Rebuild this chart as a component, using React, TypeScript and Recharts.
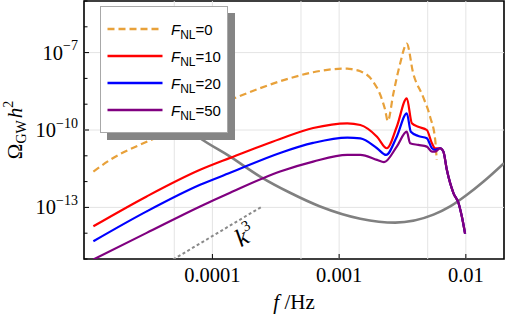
import React from "react";
import {
  LineChart,
  Line,
  XAxis,
  YAxis,
  ReferenceLine,
  ReferenceArea,
  ReferenceDot,
  Legend,
} from "recharts";

type Pt = [number, number];

// f [Hz], Omega_GW h^2
const fnl0: Pt[] = [
  [1.15e-5, 2.45e-12], [1.56e-5, 6.95e-12], [3.66e-5, 5.37e-11], [1.38e-4, 1.44e-9],
  [2.38e-4, 4.19e-9], [4.1e-4, 1.02e-8], [6.24e-4, 1.73e-8], [8.97e-4, 2.27e-8],
  [1.16e-3, 2.41e-8], [1.29e-3, 2.21e-8], [1.47e-3, 1.9e-8], [1.82e-3, 8.53e-9],
  [2.16e-3, 1.72e-9], [2.31e-3, 5.92e-10], [2.42e-3, 2.22e-10], [2.68e-3, 2.61e-9],
  [3.03e-3, 3.76e-8], [3.42e-3, 2.22e-7], [3.84e-3, 1.59e-8], [4.6e-3, 1.93e-9],
  [5.22e-3, 3.26e-10], [5.73e-3, 4.11e-11], [5.89e-3, 6.95e-12],
];

const fnl10: Pt[] = [
  [1.15e-5, 1.85e-14], [3.03e-5, 2.66e-13], [8.0e-5, 2.86e-12], [1.38e-4, 8.3e-12],
  [3.42e-4, 4.5e-11], [6.24e-4, 1.19e-10], [1.16e-3, 1.82e-10], [1.47e-3, 1.56e-10],
  [1.99e-3, 5.51e-11], [2.38e-3, 1.96e-11], [2.85e-3, 1.34e-10], [3.42e-3, 1.67e-9],
  [3.75e-3, 1.82e-10], [4.21e-3, 1.34e-10], [4.92e-3, 1.0e-10], [5.4e-3, 3.06e-11],
  [5.73e-3, 1.96e-11],
];

const fnl20: Pt[] = [
  [1.15e-5, 4.87e-15], [3.03e-5, 7.0e-14], [8.0e-5, 7.52e-13], [1.38e-4, 2.19e-12],
  [3.42e-4, 1.29e-11], [6.24e-4, 3.15e-11], [1.16e-3, 5.05e-11], [1.47e-3, 4.7e-11],
  [1.99e-3, 1.96e-11], [2.35e-3, 1.08e-11], [2.85e-3, 5.51e-11], [3.42e-3, 4.42e-10],
  [3.68e-3, 8.6e-11], [4.21e-3, 5.86e-11], [4.92e-3, 4.79e-11], [5.4e-3, 1.96e-11],
  [5.73e-3, 1.69e-11],
];

const fnl50: Pt[] = [
  [1.15e-5, 9.6e-16], [3.03e-5, 1.03e-14], [8.0e-5, 1.09e-13], [1.38e-4, 3.7e-13],
  [3.42e-4, 2.45e-12], [6.24e-4, 5.97e-12], [1.16e-3, 1.08e-11], [1.47e-3, 1.08e-11],
  [1.99e-3, 6.95e-12], [2.26e-3, 5.66e-12], [2.85e-3, 2.27e-11], [3.42e-3, 8.6e-11],
  [3.63e-3, 3.06e-11], [4.21e-3, 2.64e-11], [4.92e-3, 2.27e-11], [5.4e-3, 1.45e-11],
  [5.73e-3, 1.45e-11],
];

// common high-frequency cutoff of the three non-gaussian curves
const tail: Pt[] = [
  [6.27e-3, 1.96e-11], [6.65e-3, 1.45e-11], [7.08e-3, 2.86e-12], [7.98e-3, 3.6e-13],
  [8.75e-3, 1.48e-13], [9.29e-3, 4.5e-14], [9.86e-3, 9.66e-15],
];

// detector sensitivity
const sensitivity: Pt[] = [
  [3.22e-5, 8.53e-9], [4.64e-5, 4.95e-10], [6.67e-5, 9.15e-11], [8.0e-5, 4.79e-11],
  [1.38e-4, 9.3e-12], [2.38e-4, 1.57e-12], [4.1e-4, 3.7e-13], [7.08e-4, 1.09e-13],
  [1.47e-3, 3.66e-14], [2.77e-3, 2.57e-14], [5.55e-3, 5.23e-14], [7.52e-3, 1.09e-13],
  [1.02e-2, 3.09e-13], [1.38e-2, 1.01e-12], [2.0e-2, 5.18e-12],
];

const k3Slope: Pt[] = [[4.9e-5, 9.57e-16], [2.47e-4, 1.09e-13]];
const k3LabelAt: Pt = [1.81e-4, 8.07e-15];

const fDomain = [9.7e-6, 0.02];
const omegaDomain = [1e-15, 1e-5];
const fTicks = [1e-4, 1e-3, 1e-2];
const omegaTicks = [1e-15, 1e-14, 1e-13, 1e-12, 1e-11, 1e-10, 1e-9, 1e-8, 1e-7, 1e-6, 1e-5];
const omegaLabelled = [-7, -10, -13];
const gridF = [5e-5, 1e-4, 5e-4, 1e-3, 5e-3, 1e-2];
const gridOmega = [1e-7, 1e-10, 1e-13];

const series = [
  { name: "0", pts: fnl0, color: "#E8A13A", dash: "7 4" },
  { name: "10", pts: [...fnl10, ...tail], color: "#FF0000", dash: undefined },
  { name: "20", pts: [...fnl20, ...tail], color: "#0000FF", dash: undefined },
  { name: "50", pts: [...fnl50, ...tail], color: "#800080", dash: undefined },
];

const rows = (pts: Pt[]) => pts.map(([f, v]) => ({ f, v }));

const serif = "'Liberation Serif', 'Times New Roman', serif";
const sans = "'Liberation Sans', Arial, sans-serif";

function FTick({ x, y, payload }: any) {
  return (
    <g>
      <line x1={x} x2={x} y1={y} y2={y - 5} stroke="#000" strokeWidth={1} />
      <text x={x} y={y + 23} textAnchor="middle" fontFamily={serif} fontSize={20.5} fill="#000">
        {String(payload.value)}
      </text>
    </g>
  );
}

function OmegaTick({ x, y, payload }: any) {
  const e = Math.round(Math.log10(payload.value));
  const major = omegaLabelled.includes(e);
  return (
    <g>
      <line x1={x} x2={x + (major ? 5 : 3.5)} y1={y} y2={y} stroke="#000" strokeWidth={1} />
      {major && (
        <text x={x - 6} y={y + 7} textAnchor="end" fontFamily={serif} fontSize={20.5} fill="#000">
          10
          <tspan fontSize={14} dy={-9.5}>
            {"\u2212" + String(-e)}
          </tspan>
        </text>
      )}
    </g>
  );
}

function FLabel({ viewBox }: any) {
  const cx = viewBox.x + viewBox.width / 2;
  return (
    <text x={cx} y={viewBox.y + 50} textAnchor="middle" fontFamily={serif} fontSize={21} fill="#000">
      <tspan fontStyle="italic">f</tspan> /Hz
    </text>
  );
}

function OmegaLabel({ viewBox }: any) {
  const bx = 22;
  const cy = viewBox.y + viewBox.height / 2;
  return (
    <text
      x={bx}
      y={cy}
      transform={`rotate(-90 ${bx} ${cy})`}
      textAnchor="middle"
      fontFamily={serif}
      fontSize={21}
      fill="#000"
    >
      {"\u03A9"}
      <tspan fontSize={14} dy={4}>GW</tspan>
      <tspan dy={-4} fontStyle="italic" dx={2}>h</tspan>
      <tspan fontSize={14} dy={-9}>2</tspan>
    </text>
  );
}

function K3Text({ viewBox }: any) {
  const cx = viewBox.x + (viewBox.width || 0) / 2;
  const cy = viewBox.y + (viewBox.height || 0) / 2;
  return (
    <text
      x={cx}
      y={cy + 8}
      transform={`rotate(-30 ${cx} ${cy})`}
      textAnchor="middle"
      fontFamily={serif}
      fontStyle="italic"
      fontSize={25}
      fill="#000"
    >
      k
      <tspan fontStyle="normal" fontSize={15} dy={-11}>3</tspan>
    </text>
  );
}

function FnlLegend({ payload }: any) {
  const items = (payload || []).filter((p: any) => p.type !== "none");
  return (
    <div
      style={{
        width: 128,
        height: 127,
        boxSizing: "border-box",
        background: "#fff",
        border: "1.5px solid #a8a8a8",
        boxShadow: "7px 7px 0 #858585",
        paddingTop: 8,
      }}
    >
      {items.map((p: any) => (
        <div key={p.value} style={{ height: 27, display: "flex", alignItems: "center" }}>
          <svg width={66} height={10} style={{ flex: "none" }}>
            <line
              x1={6.5}
              x2={61.5}
              y1={5}
              y2={5}
              stroke={p.color}
              strokeWidth={2.4}
              strokeDasharray={p.payload?.strokeDasharray}
            />
          </svg>
          <span
            style={{
              marginLeft: 4,
              fontFamily: sans,
              fontSize: 15,
              color: "#000",
              lineHeight: "15px",
              whiteSpace: "nowrap",
              position: "relative",
              top: 2,
            }}
          >
            <span style={{ fontStyle: "italic" }}>F</span>
            <span style={{ fontSize: 12, position: "relative", top: 4 }}>NL</span>={p.value}
          </span>
        </div>
      ))}
    </div>
  );
}

export default function App() {
  return (
    <div style={{ position: "absolute", left: 0, top: 0, width: 506, height: 316, background: "#fff" }}>
      <LineChart width={506} height={316} margin={{ top: 1, right: 2, bottom: 0, left: 0 }}>
        <XAxis
          dataKey="f"
          type="number"
          scale="log"
          domain={fDomain}
          allowDataOverflow
          ticks={fTicks}
          interval={0}
          height={57}
          axisLine={false}
          tickLine={false}
          tickSize={0}
          tickMargin={0}
          tick={<FTick />}
          label={<FLabel />}
        />
        <YAxis
          type="number"
          scale="log"
          domain={omegaDomain}
          allowDataOverflow
          ticks={omegaTicks}
          interval={0}
          width={84}
          axisLine={false}
          tickLine={false}
          tickSize={0}
          tickMargin={0}
          tick={<OmegaTick />}
          label={<OmegaLabel />}
        />
        {gridF.map((v) => (
          <ReferenceLine key={"gx" + v} x={v} stroke="#e4e4e4" strokeWidth={1} />
        ))}
        {gridOmega.map((v) => (
          <ReferenceLine key={"gy" + v} y={v} stroke="#e4e4e4" strokeWidth={1} />
        ))}
        <Line
          data={rows(sensitivity)}
          dataKey="v"
          type="monotone"
          stroke="#808080"
          strokeWidth={2.6}
          dot={false}
          activeDot={false}
          legendType="none"
          isAnimationActive={false}
        />
        <Line
          data={rows(k3Slope)}
          dataKey="v"
          type="linear"
          stroke="#8a8a8a"
          strokeWidth={2}
          strokeDasharray="3 2.5"
          dot={false}
          activeDot={false}
          legendType="none"
          isAnimationActive={false}
        />
        {series.map((s) => (
          <Line
            key={s.name}
            name={s.name}
            data={rows(s.pts)}
            dataKey="v"
            type="monotone"
            stroke={s.color}
            strokeWidth={2.2}
            strokeDasharray={s.dash}
            dot={false}
            activeDot={false}
            isAnimationActive={false}
          />
        ))}
        <ReferenceArea
          x1={fDomain[0]}
          x2={fDomain[1]}
          y1={omegaDomain[0]}
          y2={omegaDomain[1]}
          fill="none"
          stroke="#000"
          strokeWidth={1.6}
          ifOverflow="visible"
        />
        <ReferenceDot x={k3LabelAt[0]} y={k3LabelAt[1]} r={0} fill="none" stroke="none" label={<K3Text />} />
        <Legend
          layout="vertical"
          align="center"
          verticalAlign="middle"
          content={<FnlLegend />}
          wrapperStyle={{ left: 100, top: 6, width: 128, height: 127 }}
        />
      </LineChart>
    </div>
  );
}
